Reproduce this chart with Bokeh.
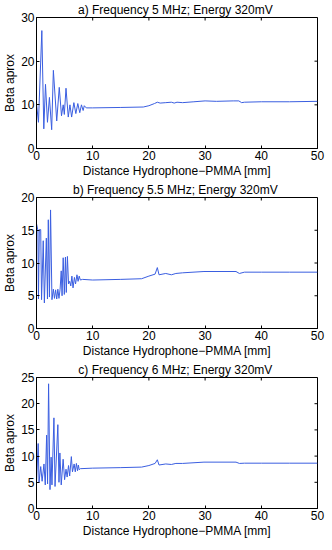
from bokeh.plotting import figure
from bokeh.layouts import column
from bokeh.models import Range1d, FixedTicker
from bokeh.embed import file_html
from bokeh.resources import INLINE

# ---- data ----
titles = ["a)  Frequency 5 MHz; Energy 320mV",
          "b)  Frequency 5.5 MHz; Energy 320mV",
          "c)  Frequency 6 MHz; Energy 320mV"]
x_label = "Distance Hydrophone\u2212PMMA [mm]"
y_label = "Beta aprox"
x_ticks = [0, 10, 20, 30, 40, 50]

a_x = [0, 0.35, 0.95, 1.3, 1.6, 1.95, 2.3, 2.7, 3.0, 3.6, 4.05, 4.45, 4.75, 4.95,
       5.25, 5.65, 5.95, 6.25, 6.65, 7.0, 7.35, 7.7, 8.0, 8.3, 8.5, 8.85,
       10, 15, 19, 20, 21, 21.5, 22, 23, 24, 24.5, 25, 26, 28, 30, 32, 35, 36,
       36.5, 37, 40, 45, 50]
a_y = [10.3, 6.0, 27.0, 4.5, 14.7, 6.0, 11.7, 4.3, 17.9, 6.3, 14.0, 7.5, 10.0, 7.8,
       13.8, 7.2, 10.0, 7.2, 10.5, 8.0, 10.3, 8.2, 10.0, 8.7, 9.8, 9.3,
       9.3, 9.4, 9.5, 9.8, 10.3, 10.6, 10.4, 10.5, 10.6, 10.4, 10.6, 10.5, 10.7,
       10.9, 10.8, 10.9, 10.9, 10.5, 10.6, 10.7, 10.7, 10.8]
a_ticks = [0, 10, 20, 30]

b_x = [0, 0.25, 0.35, 0.5, 0.75, 0.9, 1.2, 1.4, 1.75, 1.95, 2.1, 2.3, 2.5, 2.75,
       3.0, 3.2, 3.4, 3.6, 3.8, 4.0, 4.2, 4.4, 4.55, 4.75, 4.95, 5.15, 5.3, 5.5,
       5.7, 5.9, 6.1, 6.3, 6.5, 6.75, 6.95, 7.2, 7.4, 7.6, 7.8, 8.2,
       10, 15, 18.7, 20, 21.1, 21.5, 21.8, 23, 24, 24.8, 26, 29.8, 35.5, 36.1,
       37, 40, 45, 50]
b_y = [16.0, 15.0, 4.5, 15.1, 15.1, 4.4, 13.4, 3.9, 13.8, 4.5, 16.6, 4.8, 18.1, 4.4,
       6.0, 4.6, 5.9, 4.5, 6.0, 4.6, 6.0, 8.8, 5.0, 10.8, 5.2, 10.9, 5.5, 11.0,
       6.8, 7.2, 6.5, 8.0, 6.2, 7.8, 6.8, 8.2, 7.2, 8.0, 7.4, 7.5,
       7.4, 7.5, 7.6, 8.0, 8.3, 9.3, 8.2, 8.4, 8.2, 8.4, 8.5, 8.7, 8.7, 8.4,
       8.6, 8.6, 8.6, 8.6]
b_ticks = [0, 5, 10, 15, 20]

c_x = [0, 0.3, 0.45, 0.75, 1.0, 1.33, 1.56, 1.8, 1.97, 2.15, 2.4, 2.6, 2.75, 3.1,
       3.3, 3.8, 4.0, 4.16, 4.4, 4.74, 5.0, 5.25, 5.45, 5.7, 5.9, 6.2, 6.4, 6.7,
       6.9, 7.1, 7.3, 7.45, 7.6, 7.8,
       10, 15, 18.7, 20, 21.1, 21.5, 21.8, 23, 24, 24.8, 26, 29.8, 35.5, 36.1,
       37, 40, 45, 50]
c_y = [5.0, 12.4, 5.0, 8.0, 5.2, 8.5, 4.5, 14.0, 4.7, 23.8, 3.6, 9.8, 4.5, 17.3,
       4.2, 16.0, 5.0, 10.6, 4.5, 9.4, 5.5, 7.5, 6.0, 8.2, 6.2, 9.9, 7.0, 8.5,
       7.0, 8.6, 7.2, 8.3, 7.4, 7.6,
       7.7, 7.8, 7.9, 8.2, 8.6, 9.3, 8.3, 8.5, 8.4, 8.6, 8.6, 8.85, 8.85, 8.6,
       8.65, 8.65, 8.65, 8.65]
c_ticks = [0, 5, 10, 15, 20, 25]

series = [(a_x, a_y, a_ticks), (b_x, b_y, b_ticks), (c_x, c_y, c_ticks)]

FONT = "Liberation Sans"
LINE = "#3a5ee0"
FS = "12px"
TICK_PX = 3
FRAME_W = 281
FRAME_H = 131


def style_axis(ax, ticks):
    ax.ticker = FixedTicker(ticks=ticks)
    ax.axis_line_color = "black"
    ax.major_tick_line_color = "black"
    ax.major_tick_in = TICK_PX
    ax.major_tick_out = 0
    ax.minor_tick_line_color = None
    ax.major_label_text_font = FONT
    ax.major_label_text_color = "black"
    ax.major_label_text_font_size = FS
    ax.major_label_standoff = 2
    ax.axis_label_text_font = FONT
    ax.axis_label_text_font_size = FS
    ax.axis_label_text_font_style = "normal"
    ax.axis_label_text_color = "black"
    ax.axis_label_standoff = 1


figs = []
for (xs, ys, yt), title in zip(series, titles):
    x0, x1 = x_ticks[0], x_ticks[-1]
    y0, y1 = yt[0], yt[-1]
    p = figure(frame_width=FRAME_W, frame_height=FRAME_H,
               output_backend="svg", toolbar_location=None,
               x_range=Range1d(x0, x1), y_range=Range1d(y0, y1),
               min_border_left=0, min_border_right=8, min_border_top=0,
               min_border_bottom=0)
    p.line(xs, ys, line_color=LINE, line_width=1)
    # inward ticks on the top and right edges of the box (MATLAB "box on")
    dy = TICK_PX * (y1 - y0) / FRAME_H
    dx = TICK_PX * (x1 - x0) / FRAME_W
    p.segment(x0=x_ticks, y0=[y1] * len(x_ticks), x1=x_ticks,
              y1=[y1 - dy] * len(x_ticks), line_color="black", line_width=1)
    p.segment(x0=[x1] * len(yt), y0=yt, x1=[x1 - dx] * len(yt), y1=yt,
              line_color="black", line_width=1)
    p.title.text = title
    p.title.align = "center"
    p.title.text_font = FONT
    p.title.text_font_size = FS
    p.title.text_font_style = "normal"
    p.title.text_color = "black"
    p.title.offset = 0
    p.title.standoff = 1
    p.grid.visible = False
    p.outline_line_color = "black"
    p.outline_line_alpha = 1
    style_axis(p.xaxis[0], x_ticks)
    style_axis(p.yaxis[0], yt)
    p.xaxis[0].axis_label = x_label
    p.yaxis[0].axis_label = y_label
    figs.append(p)

layout = column(*figs, spacing=0)
open("out.html", "w").write(file_html(layout, INLINE))
